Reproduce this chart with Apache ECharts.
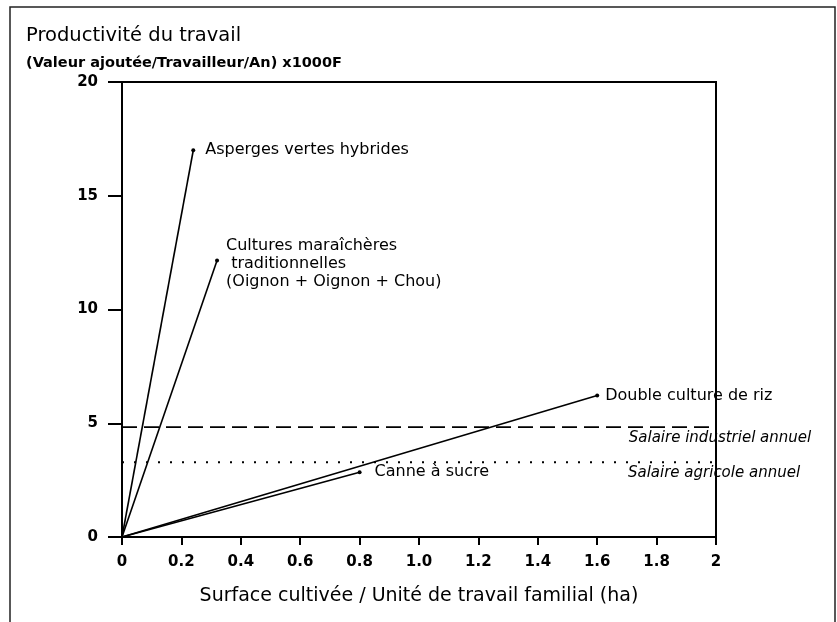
<!DOCTYPE html>
<html lang="fr">
<head>
<meta charset="UTF-8">
<title>Productivité du travail</title>
<style type="text/css">
body,html{
	width: 100%;
	height: 100%;
	margin: 0;
	padding: 0;
	background: #fff;
}
#container{
	width: 837px;
	height: 622px;
}
</style>
</head>
<body>
<div id="container"></div>
<script type="text/javascript" src="https://cdn.jsdelivr.net/npm/echarts@6/dist/echarts.min.js"></script>
<script type="text/javascript">
// points reached by each crop (surface/UTF, valeur ajoutee x1000F)
var cropNames = ['Asperges vertes hybrides', 'Cultures maraîchères\n traditionnelles\n(Oignon + Oignon + Chou)', 'Double culture de riz', 'Canne à sucre'];
var cropX = [0.24, 0.32, 1.6, 0.8];
var cropY = [17.0, 12.15, 6.22, 2.85];

// reference wages
var wageNames = ['Salaire industriel annuel', 'Salaire agricole annuel'];
var wageValues = [4.83, 3.29];

var xTicks = ['0', '0.2', '0.4', '0.6', '0.8', '1.0', '1.2', '1.4', '1.6', '1.8', '2'];
var font = 'DejaVu Sans, Liberation Sans, sans-serif';
var labelGap = [10, 7, 6, 13];

var series = [];
for (var i = 0; i < cropNames.length; i++) {
	series.push({
		type : 'line',
		animation : false,
		symbol : 'none',
		lineStyle : { color : '#000', width : 1.6 },
		data : [
			[0, 0],
			{
				value : [cropX[i], cropY[i]],
				symbol : 'circle',
				symbolSize : 4,
				itemStyle : { color : '#000' },
				label : {
					show : true,
					position : 'right',
					distance : labelGap[i],
					formatter : cropNames[i],
					color : '#000',
					fontFamily : font,
					fontSize : 16,
					lineHeight : 18,
					align : 'left',
					offset : i == 1 ? [0, 3] : [0, 0]
				}
			}
		]
	});
}
for (var j = 0; j < wageNames.length; j++) {
	series.push({
		type : 'line',
		animation : false,
		symbol : 'none',
		lineStyle : {
			color : '#000',
			width : j == 0 ? 1.6 : 2,
			type : j == 0 ? [15, 7] : [2, 10]
		},
		data : [
			[0, wageValues[j]],
			{
				value : [2, wageValues[j]],
				symbol : 'circle',
				symbolSize : 2,
				itemStyle : { color : 'rgba(0,0,0,0)' },
				label : {
					show : true,
					position : 'bottom',
					distance : 2,
					offset : [j == 0 ? 4 : -2, 0],
					formatter : wageNames[j],
					color : '#000',
					fontFamily : font,
					fontStyle : 'italic',
					fontSize : 15
				}
			}
		]
	});
}

var option = {
	backgroundColor : '#fff',
	animation : false,
	title : [{
		text : 'Productivité du travail',
		left : 21,
		top : 21,
		textStyle : { color : '#000', fontFamily : font, fontSize : 19.5, fontWeight : 'normal' }
	}, {
		text : '(Valeur ajoutée/Travailleur/An) x1000F',
		left : 21,
		top : 51,
		textStyle : { color : '#000', fontFamily : font, fontSize : 14.5, fontWeight : 'bold' }
	}],
	graphic : [{
		type : 'rect',
		shape : { x : 10, y : 7, width : 825, height : 640 },
		style : { fill : null, stroke : '#222', lineWidth : 1.5 },
		silent : true
	}],
	grid : {
		left : 122,
		top : 82,
		right : 121,
		bottom : 85,
		show : true,
		borderColor : '#000',
		borderWidth : 2
	},
	xAxis : {
		type : 'value',
		min : 0,
		max : 2,
		interval : 0.2,
		name : 'Surface cultivée / Unité de travail familial (ha)',
		nameLocation : 'middle',
		nameGap : 50,
		nameTextStyle : { color : '#000', fontFamily : font, fontSize : 19 },
		axisLine : { lineStyle : { color : '#000', width : 2 } },
		axisTick : { length : 8, lineStyle : { color : '#000', width : 2 } },
		splitLine : { show : false },
		axisLabel : {
			margin : 18,
			color : '#000',
			fontFamily : font,
			fontSize : 15,
			fontWeight : 'bold',
			formatter : function (v) {
				return xTicks[Math.round(v / 0.2)];
			}
		}
	},
	yAxis : {
		type : 'value',
		min : 0,
		max : 20,
		interval : 5,
		axisLine : { lineStyle : { color : '#000', width : 2 } },
		axisTick : { length : 14, lineStyle : { color : '#000', width : 2 } },
		splitLine : { show : false },
		axisLabel : {
			margin : 24,
			color : '#000',
			fontFamily : font,
			fontSize : 15,
			fontWeight : 'bold'
		}
	},
	series : series
};

var chart = echarts.init(document.getElementById('container'));
chart.setOption(option);
</script>
</body>
</html>
